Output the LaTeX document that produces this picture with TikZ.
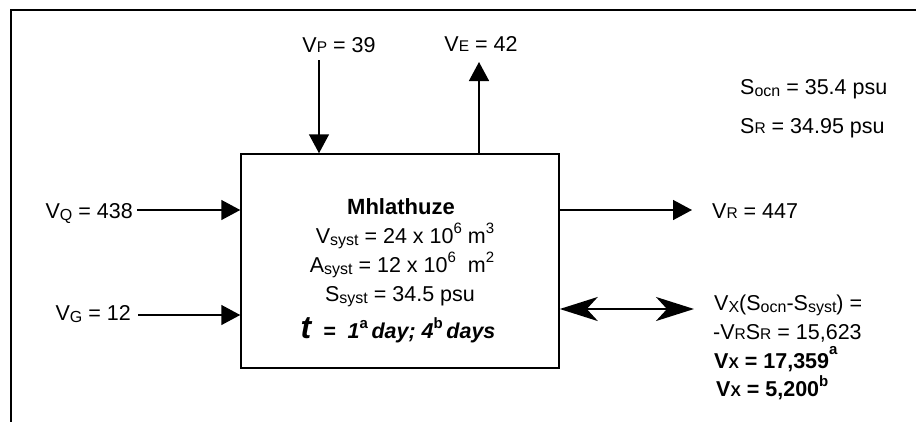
\documentclass[tikz,border=0pt]{standalone}
\usepackage{fontspec}
\setmainfont{Liberation Sans}
\usetikzlibrary{arrows.meta}

% small letters of the flow names
\newcommand\lo[1]{\raisebox{-0.25ex}{\fontsize{16}{16}\selectfont #1}}
\newcommand\smc[1]{{\fontsize{15.5}{16}\selectfont #1}}
\newcommand\up[1]{\raisebox{0.42em}{\fontsize{15}{15}\selectfont #1}}

\tikzset{
  flow/.style={-{Triangle[length=19pt,width=20pt]}, line width=1.5pt},
  xflow/.style={{Stealth[length=38pt,width=24pt,inset=11pt]}-{Stealth[length=38pt,width=24pt,inset=11pt]}, line width=2.8pt},
  lbl/.style={inner sep=0pt, font=\fontsize{21.5}{25}\selectfont}
}

\begin{document}
\begin{tikzpicture}[x=1pt,y=-1pt]
\useasboundingbox (0,0) rectangle (916,421);

% Frame
\draw[line width=1.6pt] (11,425) -- (11,10) -- (920,10);

% Estuary box
\node[draw, line width=1.5pt, minimum width=318pt, minimum height=214pt, inner sep=0pt] (mhl) at (400,261) {};

\node[lbl, anchor=base, font=\fontsize{22}{25}\selectfont\bfseries] (name) at (401,214) {Mhlathuze};
\node[lbl, anchor=base] (vsyst) at (405,243) {V\lo{syst} = 24 x 10\up{6} m\up{3}};
\node[lbl, anchor=base] (asyst) at (402,272) {A\lo{syst} = 12 x 10\up{6}\ \ m\up{2}};
\node[lbl, anchor=base] (ssyst) at (400,301) {S\lo{syst} = 34.5 psu};
\node[lbl, anchor=base, font=\fontsize{21.5}{25}\selectfont\bfseries\itshape] (tres) at (398,338)
  {{\fontsize{32}{32}\selectfont t}\ \ =\ \ 1\up{\upshape a}\,day; 4\up{\upshape b}\,days};

% Precipitation
\node[lbl, anchor=base] (vp) at (339,52) {V\smc{P} = 39};
\coordinate (vptail) at (319,60);
\draw[flow] (vptail) -- (vptail |- mhl.north);

% Evaporation
\node[lbl, anchor=base] (ve) at (481,51) {V\smc{E} = 42};
\coordinate (vehead) at (479,62);
\draw[flow] (vehead |- mhl.north) -- (vehead);

% Salinities
\node[lbl, anchor=base west] (socn) at (740,94) {S\lo{ocn} = 35.4 psu};
\node[lbl, anchor=base west] (sr) at (740,133) {S\smc{R} = 34.95 psu};

% River inflow
\node[lbl, anchor=base east] (vq) at (133,218) {V\lo{Q} = 438};
\coordinate (vqtail) at (137,210);
\draw[flow] (vqtail) -- (vqtail -| mhl.west);

% Groundwater
\node[lbl, anchor=base east] (vg) at (131,320) {V\lo{G} = 12};
\coordinate (vgtail) at (138,315);
\draw[flow] (vgtail) -- (vgtail -| mhl.west);

% Residual outflow
\node[lbl, anchor=base west] (vr) at (712,218) {V\smc{R} = 447};
\coordinate (vrhead) at (692,210);
\draw[flow] (vrhead -| mhl.east) -- (vrhead);

% Exchange
\coordinate (vxend) at (694,309);
\draw[xflow] (vxend -| mhl.east) -- (vxend);
\node[lbl, anchor=base west] (vx1) at (714,310) {V\lo{X}(S\lo{ocn}-S\lo{syst}) =};
\node[lbl, anchor=base west] (vx2) at (713,339) {-V\smc{R}S\smc{R} = 15,623};
\node[lbl, anchor=base west, font=\fontsize{21.5}{25}\selectfont\bfseries] (vx3) at (714,368) {V\smc{X} = 17,359\raisebox{0.2em}{\up{a}}};
\node[lbl, anchor=base west, font=\fontsize{21.5}{25}\selectfont\bfseries] (vx4) at (716,396) {V\smc{X} = 5,200\up{b}};

\end{tikzpicture}
\end{document}
